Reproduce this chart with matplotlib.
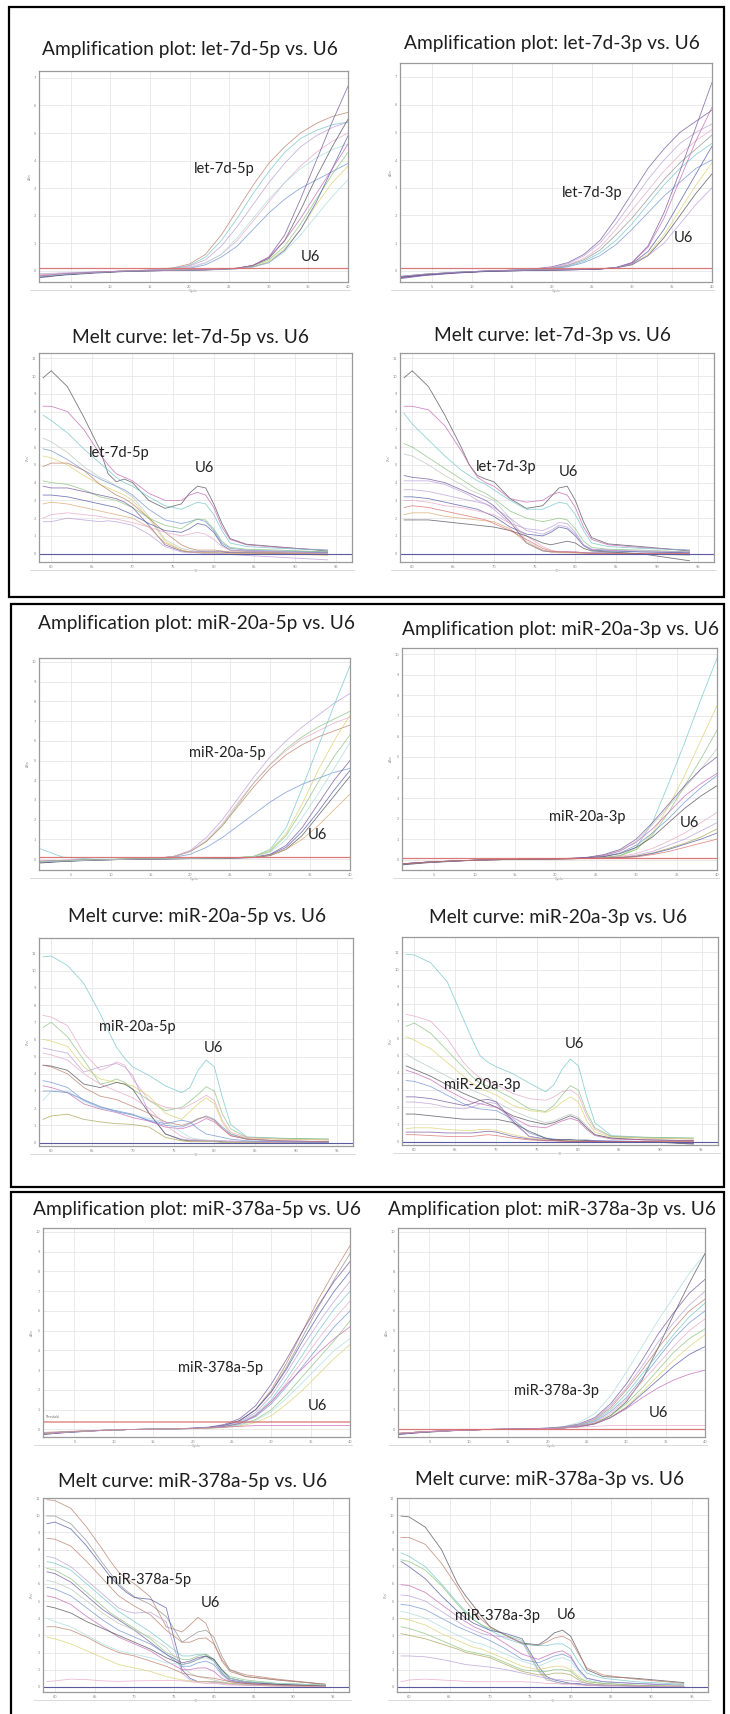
import matplotlib
matplotlib.use("Agg")
import matplotlib.pyplot as plt
from matplotlib.patches import Rectangle
from matplotlib.lines import Line2D

W, H = 730, 1714

# cycle / temperature grids the curves were read at
cycles = [1, 4, 8, 12, 16, 18, 20, 22, 24, 26, 28, 30, 32, 34, 36, 38, 40]
temps = [59, 60, 62, 64, 66, 67, 68, 69, 70, 72, 74, 76, 77, 78, 79, 80, 81, 82, 84, 88, 94]

# ---- amplification curves (one list per well, values at `cycles`) ----
let7d5p_amp = [
    [-0.15, -0.1, -0.05, 0, 0.05, 0.12, 0.25, 0.6, 1.3, 2.2, 3.1, 3.9, 4.5, 5.0, 5.35, 5.6, 5.75],
    [-0.2, -0.12, -0.05, 0, 0.04, 0.1, 0.2, 0.5, 1.1, 1.9, 2.8, 3.6, 4.3, 4.8, 5.1, 5.3, 5.4],
    [-0.1, -0.07, -0.03, 0, 0.04, 0.08, 0.18, 0.4, 0.9, 1.6, 2.4, 3.2, 3.9, 4.5, 4.9, 5.2, 5.4],
    [-0.15, -0.1, -0.05, 0, 0.03, 0.07, 0.14, 0.3, 0.6, 1.1, 1.8, 2.5, 3.2, 3.8, 4.3, 4.7, 5.0],
    [-0.2, -0.12, -0.05, 0, 0.03, 0.06, 0.1, 0.22, 0.5, 0.9, 1.5, 2.1, 2.6, 3.0, 3.3, 3.6, 3.9],
    [-0.18, -0.1, -0.04, 0, 0.03, 0.06, 0.12, 0.28, 0.6, 1.2, 1.9, 2.6, 3.2, 3.7, 4.1, 4.4, 4.6],
    [-0.25, -0.15, -0.08, -0.02, 0.01, 0.02, 0.03, 0.04, 0.06, 0.1, 0.2, 0.5, 1.3, 2.6, 4.0, 5.4, 6.7],
    [-0.22, -0.14, -0.06, -0.01, 0.01, 0.02, 0.03, 0.04, 0.06, 0.1, 0.2, 0.45, 1.1, 2.2, 3.4, 4.5, 5.5],
    [-0.2, -0.12, -0.05, 0, 0.02, 0.03, 0.04, 0.05, 0.07, 0.1, 0.18, 0.4, 0.9, 1.7, 2.6, 3.5, 4.3],
    [-0.2, -0.12, -0.05, 0, 0.02, 0.03, 0.04, 0.05, 0.06, 0.09, 0.15, 0.35, 0.8, 1.5, 2.4, 3.2, 3.8],
    [-0.22, -0.14, -0.06, -0.01, 0.01, 0.02, 0.03, 0.04, 0.05, 0.08, 0.15, 0.3, 0.75, 1.5, 2.5, 3.7, 4.9],
    [-0.2, -0.12, -0.05, 0, 0.02, 0.03, 0.04, 0.05, 0.06, 0.08, 0.14, 0.3, 0.7, 1.3, 2.0, 2.7, 3.3],
    [-0.18, -0.1, -0.04, 0, 0.02, 0.03, 0.04, 0.05, 0.07, 0.1, 0.2, 0.5, 1.1, 1.9, 2.8, 3.7, 4.6],
]
let7d3p_amp = [
    [-0.25, -0.15, -0.07, -0.01, 0.04, 0.08, 0.15, 0.3, 0.6, 1.1, 1.9, 2.8, 3.7, 4.4, 5.0, 5.4, 5.8],
    [-0.2, -0.12, -0.05, 0, 0.04, 0.07, 0.13, 0.26, 0.55, 1.0, 1.7, 2.5, 3.3, 4.0, 4.6, 5.0, 5.3],
    [-0.2, -0.12, -0.05, 0, 0.04, 0.06, 0.12, 0.22, 0.45, 0.85, 1.5, 2.2, 2.9, 3.6, 4.2, 4.7, 5.1],
    [-0.25, -0.15, -0.06, 0, 0.03, 0.06, 0.1, 0.2, 0.4, 0.75, 1.3, 1.9, 2.6, 3.3, 3.9, 4.4, 4.9],
    [-0.22, -0.13, -0.05, 0, 0.03, 0.05, 0.09, 0.17, 0.35, 0.65, 1.1, 1.7, 2.4, 3.1, 3.7, 4.2, 4.6],
    [-0.2, -0.12, -0.05, 0, 0.03, 0.05, 0.08, 0.15, 0.3, 0.55, 0.95, 1.5, 2.1, 2.7, 3.2, 3.7, 4.0],
    [-0.28, -0.17, -0.08, -0.02, 0.01, 0.02, 0.03, 0.04, 0.05, 0.07, 0.12, 0.3, 0.9, 2.1, 3.6, 5.2, 6.8],
    [-0.25, -0.15, -0.07, -0.01, 0.01, 0.02, 0.03, 0.04, 0.05, 0.07, 0.12, 0.3, 0.85, 1.9, 3.3, 4.7, 5.9],
    [-0.2, -0.12, -0.05, 0, 0.02, 0.03, 0.04, 0.05, 0.06, 0.08, 0.12, 0.25, 0.6, 1.3, 2.2, 3.1, 3.9],
    [-0.22, -0.13, -0.06, -0.01, 0.01, 0.02, 0.03, 0.04, 0.05, 0.07, 0.11, 0.22, 0.55, 1.2, 2.0, 2.8, 3.5],
    [-0.23, -0.14, -0.06, -0.01, 0.01, 0.02, 0.03, 0.04, 0.05, 0.07, 0.12, 0.26, 0.7, 1.5, 2.5, 3.5, 4.5],
    [-0.2, -0.12, -0.05, 0, 0.02, 0.03, 0.04, 0.05, 0.06, 0.08, 0.12, 0.25, 0.55, 1.0, 1.7, 2.4, 3.0],
]
mir20a5p_amp = [
    [-0.1, -0.06, -0.03, 0, 0.05, 0.15, 0.4, 0.9, 1.7, 2.7, 3.7, 4.6, 5.3, 5.8, 6.2, 6.5, 6.8],
    [-0.1, -0.06, -0.03, 0, 0.05, 0.15, 0.45, 1.1, 2.0, 3.1, 4.2, 5.2, 6.0, 6.7, 7.3, 7.9, 8.4],
    [-0.12, -0.07, -0.03, 0, 0.05, 0.13, 0.38, 0.9, 1.7, 2.8, 3.9, 4.8, 5.6, 6.2, 6.7, 7.1, 7.5],
    [-0.1, -0.06, -0.03, 0, 0.05, 0.14, 0.4, 0.95, 1.8, 2.9, 3.9, 4.8, 5.5, 6.1, 6.5, 6.9, 7.2],
    [-0.12, -0.07, -0.03, 0, 0.04, 0.1, 0.25, 0.6, 1.1, 1.7, 2.3, 2.9, 3.4, 3.8, 4.1, 4.4, 4.6],
    [0.55, 0.1, 0.0, 0, 0.02, 0.03, 0.04, 0.05, 0.06, 0.08, 0.15, 0.5, 1.6, 3.6, 5.7, 7.8, 9.8],
    [-0.15, -0.09, -0.04, 0, 0.02, 0.03, 0.04, 0.05, 0.06, 0.08, 0.15, 0.45, 1.3, 2.8, 4.5, 6.0, 7.3],
    [-0.15, -0.09, -0.04, 0, 0.02, 0.03, 0.04, 0.05, 0.06, 0.08, 0.14, 0.4, 1.2, 2.5, 3.9, 5.2, 6.3],
    [-0.18, -0.1, -0.05, -0.01, 0.01, 0.02, 0.03, 0.04, 0.05, 0.07, 0.1, 0.25, 0.7, 1.6, 2.8, 4.0, 5.0],
    [-0.2, -0.12, -0.05, -0.01, 0.01, 0.02, 0.03, 0.04, 0.05, 0.06, 0.08, 0.18, 0.5, 1.2, 2.2, 3.2, 4.2],
    [-0.18, -0.1, -0.05, -0.01, 0.01, 0.02, 0.03, 0.04, 0.05, 0.06, 0.09, 0.22, 0.6, 1.4, 2.4, 3.5, 4.5],
    [-0.15, -0.09, -0.04, 0, 0.02, 0.03, 0.04, 0.05, 0.06, 0.07, 0.1, 0.2, 0.5, 1.0, 1.7, 2.5, 3.3],
    [-0.15, -0.09, -0.04, 0, 0.02, 0.03, 0.04, 0.05, 0.06, 0.08, 0.13, 0.35, 1.0, 2.1, 3.3, 4.6, 5.9],
]
mir20a3p_amp = [
    [-0.2, -0.12, -0.05, 0, 0.02, 0.03, 0.04, 0.05, 0.07, 0.1, 0.2, 0.6, 1.8, 3.7, 5.7, 7.8, 9.8],
    [-0.2, -0.12, -0.05, 0, 0.02, 0.03, 0.04, 0.05, 0.07, 0.1, 0.18, 0.5, 1.3, 2.6, 4.1, 5.8, 7.5],
    [-0.25, -0.15, -0.06, 0, 0.02, 0.03, 0.04, 0.05, 0.07, 0.1, 0.2, 0.5, 1.2, 2.3, 3.6, 4.9, 6.3],
    [-0.2, -0.12, -0.05, 0, 0.02, 0.03, 0.05, 0.07, 0.12, 0.22, 0.45, 0.9, 1.7, 2.6, 3.5, 4.4, 5.4],
    [-0.25, -0.15, -0.06, 0, 0.02, 0.03, 0.05, 0.07, 0.12, 0.25, 0.5, 1.0, 1.8, 2.7, 3.6, 4.4, 5.0],
    [-0.22, -0.13, -0.05, 0, 0.02, 0.03, 0.05, 0.07, 0.11, 0.2, 0.42, 0.85, 1.5, 2.3, 3.1, 3.7, 4.2],
    [-0.2, -0.12, -0.05, 0, 0.02, 0.03, 0.04, 0.06, 0.09, 0.16, 0.33, 0.7, 1.3, 2.0, 2.8, 3.5, 4.1],
    [-0.22, -0.13, -0.05, 0, 0.02, 0.03, 0.04, 0.06, 0.09, 0.15, 0.3, 0.6, 1.1, 1.8, 2.5, 3.1, 3.6],
    [-0.2, -0.12, -0.05, 0, 0.02, 0.03, 0.04, 0.05, 0.07, 0.1, 0.16, 0.3, 0.55, 0.9, 1.3, 1.8, 2.3],
    [-0.2, -0.12, -0.05, 0, 0.02, 0.03, 0.04, 0.05, 0.06, 0.08, 0.12, 0.22, 0.4, 0.7, 1.0, 1.4, 1.8],
    [-0.2, -0.12, -0.05, 0, 0.02, 0.03, 0.04, 0.05, 0.06, 0.08, 0.11, 0.18, 0.32, 0.55, 0.8, 1.1, 1.5],
    [-0.2, -0.12, -0.05, 0, 0.02, 0.03, 0.04, 0.05, 0.06, 0.07, 0.1, 0.16, 0.3, 0.5, 0.75, 1.0, 1.3],
    [-0.2, -0.12, -0.05, 0, 0.02, 0.03, 0.04, 0.05, 0.06, 0.07, 0.09, 0.14, 0.25, 0.4, 0.6, 0.8, 1.0],
]
mir378a5p_amp = [
    [-0.15, -0.1, -0.05, 0, 0.02, 0.04, 0.06, 0.1, 0.2, 0.45, 1.0, 2.0, 3.4, 5.0, 6.6, 8.0, 9.3],
    [-0.2, -0.12, -0.05, 0, 0.02, 0.04, 0.06, 0.1, 0.2, 0.45, 1.0, 1.9, 3.2, 4.7, 6.2, 7.6, 8.9],
    [-0.25, -0.15, -0.06, 0, 0.02, 0.04, 0.07, 0.12, 0.25, 0.55, 1.2, 2.3, 3.6, 5.0, 6.3, 7.5, 8.5],
    [-0.25, -0.15, -0.06, 0, 0.02, 0.04, 0.06, 0.1, 0.2, 0.45, 1.0, 1.9, 3.1, 4.5, 5.8, 7.0, 8.0],
    [-0.2, -0.12, -0.05, 0, 0.02, 0.04, 0.06, 0.1, 0.18, 0.4, 0.85, 1.7, 2.9, 4.2, 5.4, 6.5, 7.5],
    [-0.2, -0.12, -0.05, 0, 0.02, 0.04, 0.06, 0.09, 0.16, 0.35, 0.75, 1.5, 2.6, 3.8, 5.0, 6.1, 7.0],
    [-0.2, -0.12, -0.05, 0, 0.02, 0.03, 0.05, 0.08, 0.15, 0.32, 0.7, 1.4, 2.4, 3.5, 4.6, 5.6, 6.5],
    [-0.22, -0.13, -0.05, 0, 0.02, 0.03, 0.05, 0.08, 0.14, 0.3, 0.65, 1.3, 2.2, 3.2, 4.2, 5.2, 6.0],
    [-0.22, -0.13, -0.05, 0, 0.02, 0.03, 0.05, 0.08, 0.14, 0.3, 0.7, 1.4, 2.3, 3.1, 3.9, 4.6, 5.2],
    [-0.2, -0.12, -0.05, 0, 0.02, 0.03, 0.05, 0.07, 0.12, 0.25, 0.5, 1.0, 1.8, 2.7, 3.6, 4.5, 5.5],
    [-0.2, -0.12, -0.05, 0, 0.02, 0.03, 0.05, 0.07, 0.11, 0.22, 0.45, 0.9, 1.6, 2.4, 3.2, 4.0, 4.6],
    [-0.2, -0.12, -0.05, 0, 0.02, 0.03, 0.04, 0.06, 0.1, 0.18, 0.35, 0.7, 1.3, 2.0, 2.8, 3.6, 4.3],
    [-0.2, -0.12, -0.05, 0, 0.02, 0.03, 0.05, 0.08, 0.12, 0.16, 0.2, 0.2, 0.2, 0.2, 0.2, 0.2, 0.2],
]
mir378a3p_amp = [
    [-0.2, -0.12, -0.05, 0, 0.02, 0.04, 0.08, 0.15, 0.35, 0.8, 1.7, 2.9, 4.2, 5.5, 6.7, 7.9, 8.9],
    [-0.25, -0.15, -0.06, 0, 0.02, 0.03, 0.05, 0.08, 0.15, 0.3, 0.7, 1.4, 2.5, 4.1, 5.8, 7.4, 8.9],
    [-0.25, -0.15, -0.06, 0, 0.02, 0.04, 0.07, 0.13, 0.28, 0.6, 1.3, 2.3, 3.5, 4.8, 5.9, 6.9, 7.6],
    [-0.2, -0.12, -0.05, 0, 0.02, 0.04, 0.07, 0.12, 0.25, 0.55, 1.2, 2.1, 3.2, 4.4, 5.4, 6.3, 7.0],
    [-0.2, -0.12, -0.05, 0, 0.02, 0.04, 0.06, 0.11, 0.22, 0.5, 1.1, 2.0, 3.0, 4.1, 5.1, 6.0, 6.6],
    [-0.2, -0.12, -0.05, 0, 0.02, 0.03, 0.06, 0.1, 0.2, 0.45, 1.0, 1.8, 2.8, 3.8, 4.8, 5.7, 6.4],
    [-0.22, -0.13, -0.05, 0, 0.02, 0.03, 0.05, 0.09, 0.18, 0.4, 0.9, 1.6, 2.6, 3.6, 4.6, 5.4, 6.0],
    [-0.2, -0.12, -0.05, 0, 0.02, 0.03, 0.05, 0.09, 0.17, 0.36, 0.8, 1.5, 2.4, 3.3, 4.2, 5.0, 5.6],
    [-0.2, -0.12, -0.05, 0, 0.02, 0.03, 0.05, 0.08, 0.15, 0.32, 0.7, 1.3, 2.1, 3.0, 3.9, 4.6, 5.1],
    [-0.2, -0.12, -0.05, 0, 0.02, 0.03, 0.05, 0.08, 0.14, 0.3, 0.62, 1.15, 1.9, 2.7, 3.5, 4.2, 4.8],
    [-0.22, -0.13, -0.05, 0, 0.02, 0.03, 0.05, 0.08, 0.14, 0.28, 0.6, 1.1, 1.8, 2.5, 3.2, 3.8, 4.2],
    [-0.2, -0.12, -0.05, 0, 0.02, 0.03, 0.05, 0.08, 0.14, 0.3, 0.6, 1.05, 1.6, 2.1, 2.5, 2.8, 3.0],
    [-0.2, -0.12, -0.05, 0, 0.02, 0.03, 0.05, 0.08, 0.12, 0.16, 0.2, 0.2, 0.2, 0.2, 0.2, 0.2, 0.2],
]

# ---- melt curves (-dRn/dT, values at `temps`) ----
let7d5p_melt = [
    [9.9, 10.3, 9.4, 7.7, 5.85, 4.5, 4.05, 4.2, 4.0, 3.0, 2.55, 2.8, 3.4, 3.8, 3.7, 2.8, 1.7, 0.85, 0.53, 0.38, 0.15],
    [8.3, 8.3, 8.0, 7.0, 5.6, 5.0, 4.5, 4.3, 4.1, 3.4, 3.0, 3.0, 3.3, 3.45, 3.3, 2.6, 1.5, 0.8, 0.5, 0.35, 0.2],
    [7.8, 7.5, 6.8, 5.9, 5.1, 4.7, 4.3, 4.0, 3.8, 3.2, 2.7, 2.5, 2.7, 2.9, 2.8, 2.2, 1.3, 0.6, 0.4, 0.3, 0.2],
    [6.5, 6.3, 5.7, 4.9, 4.3, 4.1, 3.8, 3.5, 3.2, 2.1, 0.8, 0.3, 0.2, 0.15, 0.1, 0.1, 0.1, 0.05, 0.05, 0.05, 0.0],
    [5.9, 5.8, 5.3, 4.7, 4.2, 4.0, 3.8, 3.6, 3.3, 2.5, 1.9, 1.7, 1.8, 1.95, 1.8, 1.3, 0.6, 0.3, 0.2, 0.15, 0.1],
    [5.5, 5.4, 5.0, 4.4, 3.9, 3.7, 3.5, 3.3, 3.0, 2.0, 0.7, 0.2, 0.1, 0.05, 0.05, 0.05, 0.05, 0.05, 0.0, 0.0, -0.1],
    [4.9, 5.1, 5.1, 4.7, 3.9, 3.6, 3.3, 3.1, 2.8, 2.0, 1.2, 0.5, 0.3, 0.2, 0.2, 0.2, 0.15, 0.1, 0.1, 0.05, 0.0],
    [4.1, 4.0, 3.9, 3.6, 3.2, 3.1, 3.0, 2.8, 2.6, 2.0, 1.6, 1.4, 1.7, 1.95, 1.9, 1.4, 0.7, 0.35, 0.25, 0.2, 0.1],
    [3.8, 3.7, 3.7, 3.5, 3.3, 3.2, 3.1, 2.9, 2.6, 1.6, 0.5, 0.15, 0.1, 0.1, 0.1, 0.1, 0.1, 0.05, 0.05, 0.0, -0.05],
    [3.3, 3.3, 3.2, 3.0, 2.8, 2.7, 2.6, 2.4, 2.2, 1.7, 1.3, 1.2, 1.4, 1.7, 1.6, 1.2, 0.5, 0.2, 0.15, 0.1, 0.05],
    [2.8, 2.9, 2.8, 2.6, 2.4, 2.3, 2.2, 2.1, 2.0, 1.5, 0.6, 0.2, 0.1, 0.05, 0.05, 0.05, 0.0, 0.0, 0.0, 0.0, 0.0],
    [2.0, 2.2, 2.3, 2.2, 2.1, 2.0, 1.95, 1.85, 1.75, 1.5, 1.2, 1.0, 1.1, 1.2, 1.1, 0.8, 0.4, 0.2, 0.15, 0.1, 0.0],
    [1.8, 1.8, 2.0, 1.9, 1.8, 1.85, 1.8, 1.7, 1.6, 1.1, 0.4, 0.1, 0.05, 0.05, 0.0, 0.0, 0.0, -0.05, -0.1, -0.2, -0.35],
]
let7d3p_melt = [
    [9.9, 10.3, 9.4, 7.8, 6.0, 5.0, 4.4, 4.2, 4.05, 3.1, 2.55, 2.7, 3.2, 3.7, 3.8, 3.0, 1.8, 0.9, 0.55, 0.4, 0.15],
    [8.3, 8.3, 8.1, 7.2, 5.8, 5.0, 4.3, 4.0, 3.8, 3.1, 2.9, 3.0, 3.3, 3.45, 3.3, 2.6, 1.5, 0.8, 0.5, 0.35, 0.2],
    [7.9, 7.3, 6.4, 5.5, 4.7, 4.4, 4.1, 3.9, 3.6, 3.0, 2.5, 2.5, 2.7, 2.9, 2.8, 2.2, 1.3, 0.6, 0.4, 0.3, 0.2],
    [6.2, 6.0, 5.4, 4.8, 4.2, 3.9, 3.6, 3.4, 3.1, 2.4, 2.0, 1.8, 1.9, 2.0, 1.9, 1.4, 0.7, 0.35, 0.25, 0.2, 0.1],
    [5.6, 5.5, 5.0, 4.4, 3.9, 3.6, 3.4, 3.2, 3.0, 2.0, 0.7, 0.2, 0.1, 0.1, 0.05, 0.05, 0.05, 0.05, 0.0, 0.0, -0.1],
    [4.4, 4.3, 4.2, 4.0, 3.6, 3.4, 3.2, 3.0, 2.7, 1.8, 0.6, 0.15, 0.1, 0.1, 0.1, 0.1, 0.05, 0.05, 0.05, 0.0, 0.0],
    [4.1, 4.1, 4.1, 3.9, 3.5, 3.3, 3.0, 2.8, 2.5, 1.7, 1.4, 1.3, 1.5, 1.75, 1.7, 1.2, 0.5, 0.25, 0.2, 0.1, 0.05],
    [3.2, 3.2, 3.1, 2.9, 2.7, 2.6, 2.5, 2.3, 2.1, 1.5, 1.1, 1.0, 1.2, 1.5, 1.4, 1.0, 0.45, 0.2, 0.15, 0.1, 0.05],
    [3.0, 3.0, 2.9, 2.7, 2.6, 2.5, 2.4, 2.3, 2.2, 1.7, 1.0, 0.4, 0.2, 0.1, 0.1, 0.1, 0.05, 0.05, 0.0, 0.0, 0.0],
    [2.2, 2.3, 2.3, 2.1, 2.0, 1.95, 1.9, 1.85, 1.8, 1.4, 0.6, 0.2, 0.1, 0.05, 0.05, 0.05, 0.0, 0.0, 0.0, 0.0, 0.0],
    [1.9, 1.9, 1.9, 1.8, 1.7, 1.65, 1.6, 1.55, 1.5, 1.3, 1.0, 0.6, 0.5, 0.6, 0.7, 0.6, 0.3, 0.15, 0.1, 0.0, -0.4],
    [3.6, 3.6, 3.5, 3.3, 3.1, 3.0, 2.9, 2.8, 2.6, 2.0, 1.3, 1.1, 1.3, 1.6, 1.5, 1.1, 0.5, 0.25, 0.2, 0.15, 0.1],
    [2.6, 2.7, 2.6, 2.4, 2.2, 2.1, 2.0, 1.9, 1.7, 1.3, 0.8, 0.3, 0.15, 0.1, 0.1, 0.05, 0.05, 0.0, 0.0, 0.0, 0.0],
]
mir20a5p_melt = [
    [10.8, 10.85, 10.3, 9.25, 7.5, 6.5, 5.55, 4.9, 4.4, 3.9, 3.3, 2.9, 3.2, 4.2, 4.8, 4.4, 2.6, 1.05, 0.33, 0.25, 0.2],
    [6.7, 7.0, 6.15, 4.8, 3.4, 3.5, 3.7, 3.5, 3.1, 2.45, 1.85, 2.05, 2.4, 2.8, 3.25, 3.0, 1.65, 0.8, 0.3, 0.25, 0.2],
    [7.4, 7.3, 6.8, 5.2, 4.2, 4.4, 4.7, 4.5, 3.7, 2.45, 2.05, 1.95, 2.2, 2.45, 2.75, 2.45, 1.25, 0.6, 0.3, 0.2, 0.15],
    [6.0, 5.9, 5.6, 4.4, 3.7, 3.6, 3.5, 3.4, 3.3, 2.7, 1.7, 1.35, 1.8, 2.25, 2.6, 2.25, 1.15, 0.5, 0.25, 0.2, 0.15],
    [5.5, 5.4, 5.2, 4.1, 4.4, 4.5, 4.6, 4.4, 3.9, 1.7, 0.5, 0.2, 0.15, 0.15, 0.1, 0.1, 0.1, 0.1, 0.05, 0.05, 0.0],
    [4.5, 4.45, 4.2, 3.4, 3.2, 3.35, 3.5, 3.4, 3.1, 1.7, 0.5, 0.15, 0.1, 0.1, 0.1, 0.1, 0.05, 0.05, 0.05, 0.0, 0.0],
    [3.6, 3.5, 3.2, 2.45, 2.05, 1.95, 1.85, 1.75, 1.65, 1.25, 1.0, 0.9, 1.1, 1.35, 1.55, 1.35, 0.9, 0.5, 0.2, 0.1, 0.05],
    [3.3, 3.2, 2.9, 2.25, 1.95, 1.85, 1.75, 1.6, 1.45, 1.25, 0.9, 0.8, 0.95, 1.15, 1.4, 1.2, 0.8, 0.4, 0.2, 0.1, 0.05],
    [2.45, 3.0, 3.0, 2.4, 2.0, 1.9, 1.8, 1.7, 1.6, 1.4, 1.2, 0.6, 0.3, 0.2, 0.15, 0.1, 0.1, 0.05, 0.05, 0.0, 0.0],
    [1.35, 1.55, 1.65, 1.35, 1.2, 1.15, 1.1, 1.08, 1.05, 0.9, 0.3, 0.1, 0.05, 0.05, 0.05, 0.05, 0.0, 0.0, 0.0, 0.0, 0.0],
    [4.5, 4.4, 4.0, 3.2, 2.7, 2.6, 2.5, 2.3, 2.1, 1.7, 1.2, 1.0, 1.15, 1.4, 1.5, 1.3, 0.8, 0.4, 0.2, 0.1, 0.05],
    [5.2, 5.1, 4.8, 4.0, 3.4, 3.2, 3.0, 2.8, 2.6, 2.0, 1.0, 0.35, 0.2, 0.15, 0.1, 0.1, 0.1, 0.05, 0.05, 0.0, 0.0],
    [3.0, 3.0, 2.9, 2.5, 2.1, 1.95, 1.8, 1.7, 1.6, 1.3, 1.1, 1.3, 1.2, 0.8, 0.5, 0.4, 0.3, 0.2, 0.1, 0.05, 0.0],
]
mir20a3p_melt = [
    [10.9, 10.85, 10.4, 9.3, 7.1, 6.0, 5.0, 4.6, 4.35, 3.95, 3.4, 2.9, 3.3, 4.2, 4.8, 4.4, 2.6, 1.1, 0.35, 0.25, 0.2],
    [7.4, 7.3, 7.0, 6.0, 4.6, 4.1, 3.7, 3.5, 3.3, 2.8, 2.5, 2.4, 2.6, 2.9, 3.0, 2.7, 1.5, 0.7, 0.3, 0.2, 0.15],
    [6.7, 6.9, 6.3, 5.3, 4.3, 3.8, 3.4, 3.2, 3.0, 2.5, 1.9, 1.75, 2.1, 2.7, 3.25, 3.0, 1.7, 0.8, 0.3, 0.25, 0.2],
    [6.1, 5.9, 5.4, 4.6, 3.8, 3.4, 3.1, 2.9, 2.7, 2.1, 1.8, 1.7, 1.9, 2.3, 2.6, 2.3, 1.2, 0.55, 0.25, 0.2, 0.15],
    [5.1, 4.8, 4.3, 3.8, 3.3, 3.0, 2.8, 2.6, 2.3, 1.8, 1.4, 1.1, 1.2, 1.4, 1.6, 1.4, 0.9, 0.4, 0.2, 0.1, 0.05],
    [4.4, 4.2, 3.8, 3.3, 2.8, 2.6, 2.4, 2.2, 2.0, 1.5, 1.2, 1.0, 1.1, 1.3, 1.5, 1.3, 0.8, 0.4, 0.2, 0.1, 0.05],
    [4.15, 4.0, 3.6, 3.0, 2.5, 2.3, 2.2, 2.1, 2.0, 1.4, 0.9, 0.8, 1.0, 1.2, 1.35, 1.2, 0.7, 0.35, 0.15, 0.1, 0.05],
    [3.55, 3.5, 3.2, 2.7, 2.2, 2.0, 1.9, 1.85, 1.8, 1.3, 0.5, 0.2, 0.15, 0.1, 0.1, 0.1, 0.1, 0.05, 0.05, 0.0, 0.0],
    [2.6, 2.6, 2.5, 2.3, 2.1, 2.2, 2.4, 2.45, 2.3, 1.2, 0.3, 0.15, 0.1, 0.1, 0.1, 0.05, 0.05, 0.05, 0.0, 0.0, -0.1],
    [2.3, 2.3, 2.2, 2.0, 1.9, 2.0, 2.2, 2.3, 2.2, 1.1, 0.3, 0.1, 0.1, 0.05, 0.05, 0.05, 0.05, 0.0, 0.0, 0.0, -0.1],
    [1.6, 1.6, 1.5, 1.4, 1.3, 1.3, 1.3, 1.3, 1.3, 1.1, 0.6, 0.2, 0.1, 0.1, 0.1, 0.05, 0.05, 0.0, 0.0, 0.0, -0.15],
    [0.75, 0.8, 0.8, 0.7, 0.65, 0.65, 0.7, 0.7, 0.65, 0.4, 0.2, 0.1, 0.05, 0.05, 0.05, 0.05, 0.0, 0.0, 0.0, 0.0, 0.0],
    [0.55, 0.55, 0.55, 0.5, 0.5, 0.5, 0.55, 0.6, 0.55, 0.3, 0.15, 0.05, 0.05, 0.05, 0.0, 0.0, 0.0, 0.0, 0.0, 0.0, -0.1],
    [0.4, 0.4, 0.35, 0.3, 0.3, 0.3, 0.35, 0.4, 0.35, 0.2, 0.1, 0.05, 0.05, 0.0, 0.0, 0.0, 0.0, 0.0, 0.0, 0.0, 0.0],
]
mir378a5p_melt = [
    [10.9, 10.85, 10.4, 9.3, 8.0, 7.3, 6.7, 6.3, 6.0, 5.25, 3.5, 3.2, 3.6, 4.05, 3.7, 2.55, 1.6, 1.0, 0.7, 0.45, 0.15],
    [9.95, 9.95, 9.5, 8.5, 7.2, 6.6, 6.0, 5.6, 5.25, 4.8, 4.1, 2.6, 2.9, 3.2, 3.3, 2.9, 1.8, 1.0, 0.6, 0.4, 0.15],
    [9.5, 9.6, 9.2, 8.2, 7.0, 6.4, 5.9, 5.5, 5.2, 5.1, 4.6, 1.0, 0.5, 0.3, 0.3, 0.3, 0.25, 0.2, 0.15, 0.1, 0.05],
    [8.65, 8.6, 8.2, 7.3, 6.3, 5.8, 5.3, 5.0, 4.7, 4.2, 3.3, 2.6, 2.6, 2.8, 2.85, 2.5, 1.5, 0.9, 0.6, 0.4, 0.15],
    [7.6, 7.5, 7.0, 6.2, 5.4, 5.0, 4.6, 4.4, 4.3, 4.35, 3.8, 0.8, 0.4, 0.3, 0.3, 0.25, 0.2, 0.15, 0.1, 0.05, 0.0],
    [7.3, 7.2, 6.8, 6.0, 5.2, 4.8, 4.4, 4.1, 3.8, 3.2, 2.5, 1.8, 1.8, 1.9, 1.9, 1.6, 0.9, 0.5, 0.3, 0.2, 0.1],
    [6.9, 6.8, 6.3, 5.5, 4.7, 4.3, 4.0, 3.7, 3.4, 2.8, 2.0, 1.6, 1.6, 1.8, 1.9, 1.6, 1.0, 0.6, 0.4, 0.2, 0.1],
    [6.7, 6.6, 6.1, 5.3, 4.5, 4.2, 3.9, 3.6, 3.3, 2.6, 1.9, 1.4, 1.5, 1.7, 1.8, 1.5, 0.8, 0.4, 0.25, 0.15, 0.05],
    [6.2, 6.1, 5.7, 5.0, 4.3, 4.0, 3.7, 3.5, 3.3, 2.9, 2.3, 1.2, 0.8, 0.6, 0.5, 0.4, 0.3, 0.2, 0.15, 0.1, 0.05],
    [5.8, 5.7, 5.3, 4.6, 3.9, 3.6, 3.3, 3.1, 2.9, 2.5, 1.9, 1.2, 1.2, 1.4, 1.5, 1.3, 0.7, 0.35, 0.2, 0.1, 0.05],
    [5.3, 5.2, 4.8, 4.1, 3.5, 3.2, 2.9, 2.7, 2.5, 2.1, 1.5, 1.0, 1.0, 1.1, 1.1, 0.9, 0.5, 0.3, 0.2, 0.1, 0.0],
    [4.7, 4.6, 4.3, 3.8, 3.4, 3.2, 3.0, 2.8, 2.6, 2.2, 1.7, 1.3, 1.4, 1.6, 1.8, 1.6, 1.0, 0.5, 0.3, 0.15, 0.05],
    [4.0, 3.8, 3.5, 3.0, 2.5, 2.3, 2.1, 2.0, 1.9, 1.7, 1.4, 1.3, 1.4, 1.6, 1.7, 1.5, 0.9, 0.5, 0.3, 0.2, 0.1],
    [3.5, 3.5, 3.3, 2.9, 2.4, 2.2, 2.0, 1.9, 1.8, 1.5, 1.2, 0.8, 0.7, 0.6, 0.55, 0.5, 0.4, 0.3, 0.2, 0.1, 0.05],
    [2.9, 2.8, 2.5, 2.1, 1.7, 1.5, 1.3, 1.2, 1.1, 0.9, 0.6, 0.4, 0.35, 0.3, 0.3, 0.3, 0.25, 0.2, 0.1, 0.05, 0.0],
    [0.3, 0.35, 0.45, 0.42, 0.35, 0.33, 0.32, 0.33, 0.35, 0.36, 0.38, 0.35, 0.3, 0.25, 0.2, 0.2, 0.15, 0.1, 0.1, 0.05, 0.0],
]
mir378a3p_melt = [
    [9.95, 9.9, 9.3, 8.0, 6.0, 5.3, 4.7, 4.1, 3.5, 3.0, 2.55, 2.45, 2.75, 3.15, 3.3, 2.95, 2.0, 1.0, 0.6, 0.5, 0.25],
    [8.7, 8.7, 8.3, 7.2, 5.8, 5.0, 4.4, 3.9, 3.5, 3.0, 2.5, 2.4, 2.6, 2.85, 2.95, 2.7, 1.9, 1.1, 0.7, 0.45, 0.2],
    [7.8, 7.6, 7.0, 6.0, 4.9, 4.4, 3.9, 3.6, 3.3, 2.8, 2.5, 2.4, 2.4, 2.5, 2.5, 2.2, 1.4, 0.8, 0.5, 0.3, 0.15],
    [7.4, 7.3, 6.8, 5.9, 4.8, 4.3, 3.9, 3.6, 3.4, 3.0, 2.7, 1.0, 0.5, 0.3, 0.2, 0.2, 0.15, 0.1, 0.1, 0.05, 0.0],
    [7.3, 7.0, 6.3, 5.3, 4.4, 4.0, 3.7, 3.5, 3.3, 3.1, 2.8, 1.2, 0.6, 0.4, 0.3, 0.2, 0.2, 0.1, 0.1, 0.05, 0.0],
    [5.95, 5.9, 5.5, 4.8, 4.1, 3.8, 3.5, 3.3, 3.1, 2.5, 1.9, 1.6, 1.8, 2.0, 2.1, 1.8, 1.0, 0.5, 0.3, 0.2, 0.05],
    [5.35, 5.3, 5.0, 4.4, 3.8, 3.5, 3.3, 3.1, 3.0, 2.9, 2.6, 0.9, 0.4, 0.3, 0.2, 0.2, 0.15, 0.1, 0.05, 0.05, 0.0],
    [4.8, 4.75, 4.5, 4.0, 3.5, 3.3, 3.1, 2.9, 2.7, 2.2, 1.6, 1.4, 1.6, 1.8, 1.9, 1.7, 1.0, 0.5, 0.3, 0.2, 0.1],
    [4.4, 4.3, 4.0, 3.5, 3.0, 2.8, 2.6, 2.5, 2.3, 1.9, 1.5, 1.2, 1.4, 1.6, 1.7, 1.5, 0.9, 0.4, 0.2, 0.1, 0.05],
    [4.0, 3.9, 3.6, 3.1, 2.7, 2.5, 2.3, 2.2, 2.0, 1.6, 1.2, 1.0, 1.1, 1.2, 1.2, 1.0, 0.6, 0.3, 0.2, 0.1, 0.05],
    [3.5, 3.4, 3.1, 2.7, 2.3, 2.1, 2.0, 1.9, 1.8, 1.4, 1.0, 0.9, 0.9, 1.0, 1.0, 0.9, 0.5, 0.3, 0.2, 0.1, 0.0],
    [3.1, 3.0, 2.8, 2.5, 2.2, 2.0, 1.9, 1.8, 1.7, 1.3, 0.9, 0.7, 0.7, 0.8, 0.8, 0.7, 0.4, 0.2, 0.1, 0.05, 0.0],
    [1.8, 1.8, 1.75, 1.6, 1.4, 1.3, 1.25, 1.2, 1.15, 1.0, 0.8, 0.6, 0.5, 0.45, 0.4, 0.35, 0.3, 0.2, 0.1, 0.05, 0.0],
    [0.3, 0.4, 0.45, 0.4, 0.35, 0.32, 0.3, 0.3, 0.3, 0.3, 0.3, 0.25, 0.2, 0.2, 0.15, 0.15, 0.1, 0.1, 0.05, 0.05, 0.0],
]

# thresholds on the amplification plots
thresholds = {"let7d5p": 0.11, "let7d3p": 0.11, "mir20a5p": 0.1, "mir20a3p": 0.1,
              "mir378a5p": 0.4, "mir378a3p": 0.0}

palette = {
    "grey": "#8c8c8c", "dgrey": "#4a4a55", "brown": "#b87a64", "red": "#d86a6a",
    "pink": "#e6a3c4", "magenta": "#c262b4", "lav": "#b79ad6", "purple": "#6c4f9a",
    "navy": "#4b55a0", "blue": "#6c8fd0", "teal": "#6ec2c6", "lteal": "#a6dadb",
    "green": "#86c07a", "yellow": "#d9cf6b", "olive": "#a9a050", "orange": "#d9a36a",
    "lgrey": "#b8c4b8",
}
amp_colors = {
    "let7d5p": ["brown", "teal", "lav", "pink", "blue", "lteal", "purple", "dgrey", "green", "yellow", "navy", "lteal", "magenta"],
    "let7d3p": ["purple", "lav", "pink", "grey", "teal", "blue", "purple", "magenta", "yellow", "dgrey", "navy", "lav"],
    "mir20a5p": ["brown", "lav", "green", "pink", "blue", "teal", "yellow", "green", "purple", "dgrey", "navy", "orange", "lteal"],
    "mir20a3p": ["teal", "yellow", "green", "lgrey", "purple", "magenta", "blue", "dgrey", "pink", "lav", "olive", "navy", "red"],
    "mir378a5p": ["brown", "grey", "purple", "navy", "lav", "teal", "pink", "blue", "magenta", "green", "lteal", "yellow", "magenta"],
    "mir378a3p": ["lteal", "dgrey", "purple", "lav", "brown", "teal", "blue", "pink", "green", "yellow", "navy", "magenta", "pink"],
}
melt_colors = {
    "let7d5p": ["dgrey", "magenta", "teal", "lgrey", "blue", "yellow", "brown", "green", "purple", "navy", "orange", "pink", "lav"],
    "let7d3p": ["dgrey", "magenta", "teal", "green", "lgrey", "purple", "lav", "navy", "pink", "orange", "dgrey", "lav", "red"],
    "mir20a5p": ["teal", "green", "pink", "yellow", "lav", "dgrey", "blue", "magenta", "lteal", "olive", "brown", "pink", "blue"],
    "mir20a3p": ["teal", "pink", "green", "yellow", "lgrey", "dgrey", "magenta", "blue", "purple", "lav", "dgrey", "yellow", "purple", "red"],
    "mir378a5p": ["brown", "grey", "navy", "brown", "lav", "teal", "green", "purple", "lgrey", "blue", "magenta", "dgrey", "lteal", "brown", "yellow", "pink"],
    "mir378a3p": ["dgrey", "brown", "teal", "green", "navy", "magenta", "lav", "blue", "lteal", "yellow", "green", "olive", "lav", "pink"],
}

# layout in pixels: (left, top, right, bottom), title centre, label spots
panels = [
    # key, kind, title, axes box, title xy, ylim, label, label (x, y) in data units, U6 (x, y)
    ("let7d5p", "amp", "Amplification plot: let-7d-5p vs. U6", (39, 71, 348, 282), (190, 50), (-0.4, 7.25), "let-7d-5p", (24.4, 3.7), (35.2, 0.5)),
    ("let7d3p", "amp", "Amplification plot: let-7d-3p vs. U6", (400, 63, 712, 282), (552, 44), (-0.4, 7.5), "let-7d-3p", (25.0, 2.8), (36.4, 1.2)),
    ("let7d5p", "melt", "Melt curve: let-7d-5p vs. U6", (39, 353, 352, 562), (190, 338), (-0.47, 11.3), "let-7d-5p", (68.4, 5.66), (78.85, 4.8)),
    ("let7d3p", "melt", "Melt curve: let-7d-3p vs. U6", (400, 353, 714, 562), (552, 336), (-0.47, 11.3), "let-7d-3p", (71.5, 4.9), (79.1, 4.6)),
    ("mir20a5p", "amp", "Amplification plot: miR-20a-5p vs. U6", (39, 658, 350, 870), (197, 624), (-0.55, 10.2), "miR-20a-5p", (24.6, 5.4), (35.9, 1.2)),
    ("mir20a3p", "amp", "Amplification plot: miR-20a-3p vs. U6", (402, 648, 717, 870), (560, 629), (-0.5, 10.3), "miR-20a-3p", (23.9, 2.1), (36.6, 1.8)),
    ("mir20a5p", "melt", "Melt curve: miR-20a-5p vs. U6", (39, 938, 353, 1146), (197, 917), (-0.2, 11.9), "miR-20a-5p", (70.5, 6.7), (79.9, 5.5)),
    ("mir20a3p", "melt", "Melt curve: miR-20a-3p vs. U6", (402, 937, 718, 1145), (558, 918), (-0.2, 11.9), "miR-20a-3p", (68.3, 3.3), (79.5, 5.65)),
    ("mir378a5p", "amp", "Amplification plot: miR-378a-5p vs. U6", (43, 1228, 350, 1437), (197, 1210), (-0.38, 10.2), "miR-378a-5p", (23.6, 3.1), (35.8, 1.2)),
    ("mir378a3p", "amp", "Amplification plot: miR-378a-3p vs. U6", (398, 1228, 705, 1437), (552, 1210), (-0.38, 10.2), "miR-378a-3p", (21.1, 1.95), (34.1, 0.85)),
    ("mir378a5p", "melt", "Melt curve: miR-378a-5p vs. U6", (43, 1498, 349, 1692), (193, 1482), (-0.3, 11.0), "miR-378a-5p", (71.8, 6.2), (79.6, 4.9)),
    ("mir378a3p", "melt", "Melt curve: miR-378a-3p vs. U6", (397, 1498, 708, 1692), (550, 1480), (-0.3, 11.0), "miR-378a-3p", (70.9, 4.1), (79.5, 4.2)),
]

amp_data = {"let7d5p": let7d5p_amp, "let7d3p": let7d3p_amp, "mir20a5p": mir20a5p_amp,
            "mir20a3p": mir20a3p_amp, "mir378a5p": mir378a5p_amp, "mir378a3p": mir378a3p_amp}
melt_data = {"let7d5p": let7d5p_melt, "let7d3p": let7d3p_melt, "mir20a5p": mir20a5p_melt,
             "mir20a3p": mir20a3p_melt, "mir378a5p": mir378a5p_melt, "mir378a3p": mir378a3p_melt}

FONT = ["Lato", "DejaVu Sans"]

fig = plt.figure(figsize=(W / 100, H / 100), dpi=100)
fig.patch.set_facecolor("white")


def fx(px):
    return px / W


def fy(py):
    return 1 - py / H


def style_axes(ax):
    for s in ax.spines.values():
        s.set_color("#9a9a9a")
        s.set_linewidth(0.9)
    ax.grid(True, color="#e6e6e6", lw=0.6)
    ax.set_axisbelow(True)
    ax.tick_params(length=0, labelsize=2.6, colors="#8a8a8a", pad=2)


for key, kind, title, box, txy, ylim, lab, lab_xy, u6_xy in panels:
    l, t, r, b = box
    ax = fig.add_axes([fx(l), fy(b), fx(r) - fx(l), fy(t) - fy(b)])
    style_axes(ax)
    if kind == "amp":
        for y, c in zip(amp_data[key], amp_colors[key]):
            ax.plot(cycles, y, color=palette[c], lw=0.6, alpha=0.75)
        ax.axhline(thresholds[key], color="#d86a6a", lw=0.9 if key != "mir378a5p" else 1.4,
                   alpha=0.9 if key != "mir378a5p" else 0.6)
        if key == "mir378a5p":
            ax.text(1.4, 0.6, "Threshold", fontsize=2, color="#666")
        ax.set_xlim(1, 40)
        ax.set_xticks(range(5, 41, 5))
        ax.set_ylim(*ylim)
        ax.set_yticks(range(0, int(ylim[1]) + 1))
        ax.set_xlabel("Cycle", fontsize=2.4, color="#8a8a8a", labelpad=0.5)
        ax.set_ylabel("ΔRn", fontsize=2.4, color="#8a8a8a", labelpad=1)
    else:
        for y, c in zip(melt_data[key], melt_colors[key]):
            ax.plot(temps, y, color=palette[c], lw=0.6, alpha=0.75)
        ax.axhline(0, color="#5a5aa0", lw=0.8)
        ax.set_xlim(58.5, 97)
        ax.set_xticks(range(60, 96, 5))
        ax.set_ylim(*ylim)
        ax.set_yticks(range(0, int(ylim[1]) + 1))
        ax.set_xlabel("°C", fontsize=2.4, color="#8a8a8a", labelpad=0.5)
        ax.set_ylabel("-Rn'", fontsize=2.4, color="#8a8a8a", labelpad=1)
    ax.text(*lab_xy, lab, fontsize=10.5, ha="center", va="center", color="#222", family=FONT)
    ax.text(*u6_xy, "U6", fontsize=10.5, ha="center", va="center", color="#222", family=FONT)
    fig.text(fx(txy[0]), fy(txy[1]), title, fontsize=13.8, ha="center", va="center",
             color="#1e1e1e", family=FONT)
    # bottom edge of the pasted screenshot
    fig.add_artist(Line2D([fx(l - 9), fx(r + 2)], [fy(b + 8), fy(b + 8)],
                          color="#d4d4d4", lw=0.6))

# black frames around each miRNA pair
for x0, y0, x1, y1 in [(9, 7, 724, 597), (11, 604, 724, 1187), (11, 1192, 724, 1716)]:
    fig.add_artist(Rectangle((fx(x0), fy(y1)), fx(x1) - fx(x0), fy(y0) - fy(y1),
                             fill=False, ec="black", lw=1.6, transform=fig.transFigure))

fig.savefig("out.png", dpi=100, facecolor="white")
